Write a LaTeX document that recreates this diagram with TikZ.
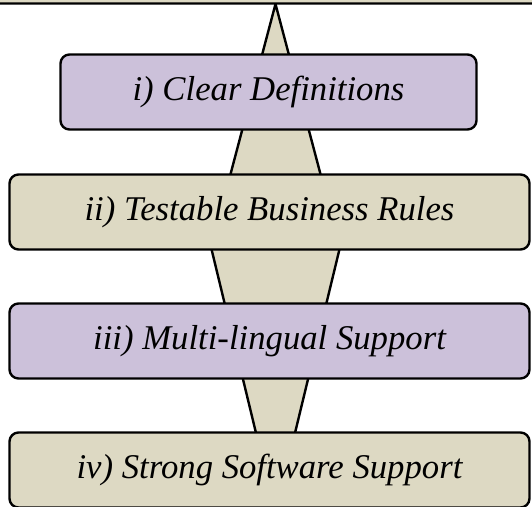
\documentclass[tikz,border=0pt]{standalone}
\usepackage{fontspec}
\setmainfont{Liberation Serif}
\definecolor{lilac}{HTML}{CCC1DA}
\definecolor{tan}{HTML}{DDD9C3}
\begin{document}
\begin{tikzpicture}[x=1pt,y=-1pt,
  card/.style={draw=black, line width=2.4pt, rounded corners=9pt,
    minimum height=75pt, inner sep=0pt,
    font=\fontsize{34.7}{40}\selectfont\itshape},
  wide/.style={card, minimum width=520pt},
  narrow/.style={card, minimum width=416pt},
  wedge/.style={draw=black, line width=2.4pt, fill=tan, line join=miter}]
\useasboundingbox (0,0) rectangle (532,506);
\clip (0,0) rectangle (532,506);
% coordinates of the two wedge tips
\coordinate (tipA) at (275.5,4);
\coordinate (tipB) at (275.5,513.5);
% wedges behind the cards
\draw[wedge] (tipA) -- (330.5,212) -- (220.5,212) -- cycle;
\draw[wedge] (tipB) -- (202.5,212) -- (348.5,212) -- cycle;
% cards
\node[card, fill=tan, minimum width=580pt] (b0) at (266,-34) {};
\node[narrow, fill=lilac] (b1) at (268.5,92) {i) Clear Definitions};
\node[wide, fill=tan] (b2) at (269.5,212) {ii) Testable Business Rules};
\node[wide, fill=lilac] (b3) at (269.5,341) {iii) Multi-lingual Support};
\node[wide, fill=tan] (b4) at (269.5,470) {iv) Strong Software Support};
\end{tikzpicture}
\end{document}
